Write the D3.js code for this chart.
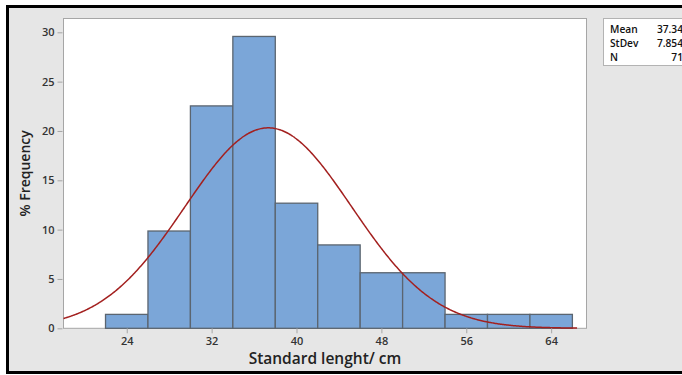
<!DOCTYPE html>
<html>
<head>
<meta charset="utf-8">
<script src="https://cdn.jsdelivr.net/npm/d3@7"></script>
<style>
  body { margin: 0; background: #fff; }
  svg { display: block; }
</style>
</head>
<body>
<div id="chart"></div>
<script>
// Histogram bins (cm) and % frequency
var binStarts = [22, 26, 30, 34, 38, 42, 46, 50, 54, 58, 62]
var binWidth = 4
var percents = [1.41, 9.86, 22.54, 29.58, 12.68, 8.45, 5.63, 5.63, 1.41, 1.41, 1.41]

var xTicks = [24, 32, 40, 48, 56, 64]
var yTicks = [0, 5, 10, 15, 20, 25, 30]

// Fitted normal summary
var statLabels = ['Mean', 'StDev', 'N']
var statValues = ['37.34', '7.854', '71']
var fitMean = 37.34
var fitSd = 7.854

var W = 682, H = 375
var panel = {left: 63.5, top: 18.5, right: 586.5, bottom: 328.3}

var svg = d3.select('#chart').append('svg')
    .attr('width', W)
    .attr('height', H)

// Outer frame
svg.append('rect')
    .attr('x', 7.5).attr('y', 6.5)
    .attr('width', W + 10).attr('height', 366)
    .attr('fill', '#e6e6e6')
    .attr('stroke', '#000')
    .attr('stroke-width', 3)

var x = d3.scaleLinear()
    .domain([18.04, 67.33])
    .range([panel.left, panel.right])

var y = d3.scaleLinear()
    .domain([0, 30])
    .range([panel.bottom, 32.3])

// Panel
svg.append('rect')
    .attr('x', panel.left).attr('y', panel.top)
    .attr('width', panel.right - panel.left)
    .attr('height', panel.bottom - panel.top)
    .attr('fill', '#fff')
    .attr('stroke', '#a6a6a6')
    .attr('stroke-width', 1)

// Bars
svg.selectAll('rect.bar')
    .data(binStarts)
  .enter().append('rect')
    .attr('class', 'bar')
    .attr('x', function(d){ return x(d) })
    .attr('y', function(d, i){ return y(percents[i]) })
    .attr('width', function(d){ return x(d + binWidth) - x(d) })
    .attr('height', function(d, i){ return y(0) - y(percents[i]) })
    .attr('fill', '#7ba6d8')
    .attr('stroke', '#5b6570')
    .attr('stroke-width', 1.3)

// Normal fit curve scaled to % per bin
var curveX = d3.range(18.04, 66.5, 0.1)
var line = d3.line()
    .x(function(d){ return x(d) })
    .y(function(d){
      var z = (d - fitMean) / fitSd
      return y(100 * binWidth * Math.exp(-0.5 * z * z) / (fitSd * Math.sqrt(2 * Math.PI)))
    })
    .curve(d3.curveBasis)
svg.append('path')
    .datum(curveX)
    .attr('d', line)
    .attr('fill', 'none')
    .attr('stroke', '#a3201f')
    .attr('stroke-width', 1.5)

// Axes
var tickFont = '"Open Sans", sans-serif'
var xAxis = svg.append('g')
    .attr('transform', 'translate(0,' + panel.bottom + ')')
    .call(d3.axisBottom(x).tickValues(xTicks).tickSize(5).tickPadding(4))
var yAxis = svg.append('g')
    .attr('transform', 'translate(' + (panel.left - 1) + ',0)')
    .call(d3.axisLeft(y).tickValues(yTicks).tickSize(5).tickPadding(3))

;[xAxis, yAxis].forEach(function(a){
  a.select('.domain').remove()
  a.selectAll('line').attr('stroke', '#a6a6a6')
  a.selectAll('text')
      .attr('font-family', tickFont)
      .attr('font-size', '11px')
      .attr('font-weight', 600)
      .attr('fill', '#333')
})

// Axis titles
svg.append('text')
    .attr('x', (panel.left + panel.right) / 2)
    .attr('y', 364)
    .attr('text-anchor', 'middle')
    .attr('font-family', tickFont)
    .attr('font-size', '15.5px')
    .attr('font-weight', 600)
    .attr('fill', '#222')
    .text('Standard lenght/ cm')

svg.append('text')
    .attr('transform', 'translate(30,' + ((panel.top + panel.bottom) / 2) + ') rotate(-90)')
    .attr('text-anchor', 'middle')
    .attr('font-family', tickFont)
    .attr('font-size', '14px')
    .attr('font-weight', 600)
    .attr('fill', '#222')
    .text('% Frequency')

// Stats box
var box = svg.append('g')
box.append('rect')
    .attr('x', 603.5).attr('y', 18.5)
    .attr('width', 100).attr('height', 47)
    .attr('fill', '#fff')
    .attr('stroke', '#b3b3b3')
statLabels.forEach(function(s, i){
  box.append('text')
      .attr('x', 610)
      .attr('y', 32.8 + i * 14)
      .attr('font-family', tickFont)
      .attr('font-size', '10.2px')
      .attr('font-weight', 600)
      .attr('fill', '#111')
      .text(s)
  box.append('text')
      .attr('x', 683)
      .attr('y', 32.8 + i * 14)
      .attr('text-anchor', 'end')
      .attr('font-family', tickFont)
      .attr('font-size', '10.2px')
      .attr('font-weight', 600)
      .attr('fill', '#111')
      .text(statValues[i])
})
</script>
</body>
</html>
